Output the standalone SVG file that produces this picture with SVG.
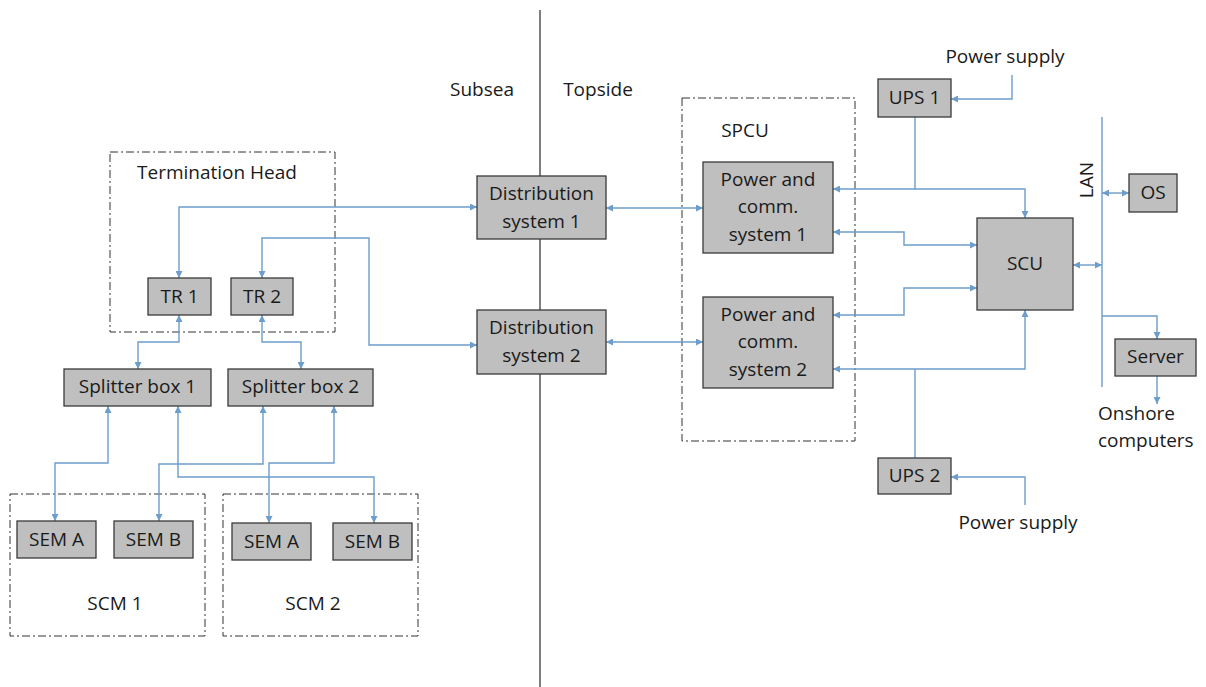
<svg xmlns="http://www.w3.org/2000/svg" width="1206" height="687" viewBox="0 0 1206 687">
<style>
text{font-family:"Open Sans","Noto Sans","Liberation Sans",sans-serif;font-size:19px;fill:#1a1a1a;text-anchor:middle}
.box{fill:#bfbfbf;stroke:#3a3a3a;stroke-width:1.3}
.grp{fill:none;stroke:#333;stroke-width:1;stroke-dasharray:8 3 2 3}
.c{fill:none;stroke:#6c9dcb;stroke-width:1.4}
.b{marker-start:url(#ah);marker-end:url(#ah)}
.e{marker-end:url(#ah)}
</style>
<defs>
<marker id="ah" viewBox="0 0 8 8" refX="8" refY="4" markerWidth="8" markerHeight="7" markerUnits="userSpaceOnUse" orient="auto-start-reverse">
<path d="M0,0 L8,4 L0,8 z" fill="#6c9dcb"/>
</marker>
</defs>
<rect width="1206" height="687" fill="#fff"/>
<g id="divider">
<line x1="540" y1="10" x2="540" y2="687" stroke="#555" stroke-width="1.5"/>
<text x="482" y="96">Subsea</text>
<text x="598" y="96">Topside</text>
</g>
<g id="termination-head">
<rect class="grp" x="110" y="152" width="225" height="180"/>
<text x="217" y="179">Termination Head</text>
</g>
<g id="spcu">
<rect class="grp" x="682" y="98" width="173" height="343"/>
<text x="745" y="137">SPCU</text>
</g>
<g id="scm1">
<rect class="grp" x="10" y="494" width="195" height="142"/>
<text x="115" y="610">SCM 1</text>
</g>
<g id="scm2">
<rect class="grp" x="223" y="494" width="195" height="142"/>
<text x="313" y="610">SCM 2</text>
</g>
<g id="connectors">
<path class="c b" d="M179,278 V207 H477"/>
<path class="c b" d="M262,278 V238 H369 V345 H477"/>
<path class="c b" d="M179,315 V342 H138 V369"/>
<path class="c b" d="M262,315 V342 H301 V369"/>
<path class="c b" d="M108,406 V463 H55 V521"/>
<path class="c b" d="M263,406 V464 H159 V521"/>
<path class="c b" d="M178,406 V477 H374 V523"/>
<path class="c b" d="M334,406 V463 H269 V523"/>
<path class="c b" d="M606,208 H703"/>
<path class="c b" d="M606,342 H703"/>
<path class="c e" d="M1012,75 V99 H951"/>
<path class="c" d="M915,117 V189"/>
<path class="c b" d="M833,189 H1025 V218"/>
<path class="c b" d="M833,232 H904 V245 H977"/>
<path class="c b" d="M833,315 H904 V288 H977"/>
<path class="c b" d="M833,369 H1025 V310"/>
<path class="c" d="M915,458 V369"/>
<path class="c e" d="M1025,505 V477 H951"/>
<path class="c" d="M1102,117 V387"/>
<path class="c b" d="M1102,193 H1129"/>
<path class="c b" d="M1073,265 H1102"/>
<path class="c e" d="M1102,316 H1157 V339"/>
<path class="c e" d="M1157,376 V404"/>
</g>
<g id="tr1"><rect class="box" x="148" y="278" width="63" height="37"/><text x="179.5" y="303">TR 1</text></g>
<g id="tr2"><rect class="box" x="231" y="278" width="62" height="37"/><text x="262" y="303">TR 2</text></g>
<g id="splitter1"><rect class="box" x="64" y="369" width="147" height="37"/><text x="137.5" y="393">Splitter box 1</text></g>
<g id="splitter2"><rect class="box" x="228" y="369" width="145" height="37"/><text x="300.5" y="393">Splitter box 2</text></g>
<g id="scm1-sema"><rect class="box" x="17" y="521" width="79" height="37"/><text x="56.5" y="546">SEM A</text></g>
<g id="scm1-semb"><rect class="box" x="114" y="521" width="79" height="37"/><text x="153.5" y="546">SEM B</text></g>
<g id="scm2-sema"><rect class="box" x="232" y="523" width="79" height="37"/><text x="271.5" y="548">SEM A</text></g>
<g id="scm2-semb"><rect class="box" x="333" y="523" width="79" height="37"/><text x="372.5" y="548">SEM B</text></g>
<g id="dist1"><rect class="box" x="477" y="176" width="129" height="63"/><text x="541.5" y="200">Distribution</text><text x="541.5" y="228">system 1</text></g>
<g id="dist2"><rect class="box" x="477" y="310" width="129" height="64"/><text x="541.5" y="334">Distribution</text><text x="541.5" y="362">system 2</text></g>
<g id="pc1"><rect class="box" x="703" y="162" width="130" height="91"/><text x="768" y="186">Power and</text><text x="768" y="213">comm.</text><text x="768" y="241">system 1</text></g>
<g id="pc2"><rect class="box" x="703" y="297" width="130" height="91"/><text x="768" y="321">Power and</text><text x="768" y="348">comm.</text><text x="768" y="376">system 2</text></g>
<g id="ups1"><rect class="box" x="878" y="79" width="73" height="38"/><text x="914.5" y="104">UPS 1</text></g>
<g id="ups2"><rect class="box" x="878" y="458" width="73" height="36"/><text x="914.5" y="482">UPS 2</text></g>
<g id="power1"><text x="1005" y="63">Power supply</text></g>
<g id="power2"><text x="1018" y="529">Power supply</text></g>
<g id="scu"><rect class="box" x="977" y="218" width="96" height="92"/><text x="1025" y="270">SCU</text></g>
<g id="lan"><text x="1093" y="180" transform="rotate(-90 1093 180)">LAN</text></g>
<g id="os"><rect class="box" x="1129" y="174" width="48" height="38"/><text x="1153" y="199">OS</text></g>
<g id="server"><rect class="box" x="1115" y="339" width="81" height="37"/><text x="1155.5" y="363">Server</text></g>
<g id="onshore"><text x="1098" y="420" style="text-anchor:start">Onshore</text><text x="1098" y="447" style="text-anchor:start">computers</text></g>
</svg>
